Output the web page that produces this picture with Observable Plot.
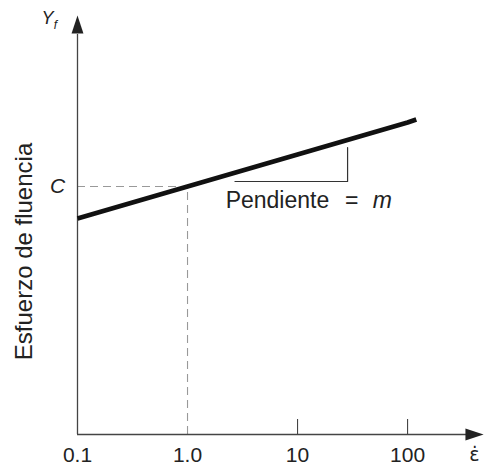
<!DOCTYPE html>
<html>
<head>
<meta charset="utf-8">
<script src="https://cdn.jsdelivr.net/npm/d3@7"></script>
<script src="https://cdn.jsdelivr.net/npm/@observablehq/plot@0.6"></script>
<style>
  html, body { margin: 0; padding: 0; background: #fff; }
</style>
</head>
<body>
<div id="chart"></div>
<script>
// Data
const strainRate = [0.1, 1, 10, 100, 120];
const yieldStress = [216, 248, 280, 312, 315];
const tickValues = [0.1, 1, 10, 100];
const tickLabels = ["0.1", "1.0", "10", "100"];
const refStrainRate = 1;
const C = 248;
const slopeTriX = [2.7, 28.5, 28.5];
const slopeTriY = [253, 253, 287];

const lineData = strainRate.map((x, i) => ({x, y: yieldStress[i]}));
const triData = slopeTriX.map((x, i) => ({x, y: slopeTriY[i]}));
const ticks = tickValues.map((v, i) => ({v, label: tickLabels[i]}));

const arrowHead = {
  draw(ctx, size) {
    const r = Math.sqrt(size / Math.PI);
    ctx.moveTo(0, -r * 1.3);
    ctx.lineTo(r * 0.85, r * 1.3);
    ctx.lineTo(-r * 0.85, r * 1.3);
    ctx.closePath();
  }
};

const ink = "#222";
const axisColor = "#444";
const font = "Liberation Sans, Arial, Helvetica, sans-serif";

const chart = Plot.plot({
  width: 487,
  height: 468,
  marginLeft: 77,
  marginRight: 4,
  marginTop: 14,
  marginBottom: 34,
  x: {type: "log", domain: [0.1, 490], axis: null},
  y: {domain: [0, 420], axis: null},
  style: {fontFamily: font, background: "white", overflow: "visible"},
  marks: [
    // dashed reference lines
    Plot.ruleY([C], {x1: 0.1, x2: refStrainRate, stroke: "#999", strokeWidth: 1.1, strokeDasharray: "8,5"}),
    Plot.ruleX([refStrainRate], {y1: 0, y2: C, stroke: "#999", strokeWidth: 1.1, strokeDasharray: "8,5"}),
    // axes
    Plot.ruleY([0], {x1: 0.1, x2: 400, stroke: axisColor, strokeWidth: 1.3}),
    Plot.ruleX([0.1], {y1: 0, y2: 400, stroke: axisColor, strokeWidth: 1.3}),
    Plot.dot([{x: 406, y: 0}], {x: "x", y: "y", symbol: arrowHead, r: 7, fill: ink, stroke: "none", rotate: 90}),
    Plot.dot([{x: 0.1, y: 410}], {x: "x", y: "y", symbol: arrowHead, r: 7, fill: ink, stroke: "none"}),
    // x ticks
    Plot.ruleX(tickValues.filter(v => v >= 10), {y1: 0, y2: 15, stroke: axisColor, strokeWidth: 1.1}),
    Plot.text(ticks, {x: "v", y: () => 0, text: "label", dy: 21, fontSize: 21, fill: ink, textAnchor: "middle", lineAnchor: "middle"}),
    // main line
    Plot.line(lineData, {x: "x", y: "y", stroke: "#111", strokeWidth: 4.8, strokeLinecap: "butt"}),
    // slope triangle
    Plot.line(triData, {x: "x", y: "y", stroke: "#333", strokeWidth: 1.2}),
    Plot.text(["Pendiente"], {x: 2.22, y: 234, text: d => d, fontSize: 23, fill: ink, textAnchor: "start", lineAnchor: "middle"}),
    Plot.text(["="], {x: 2.22, y: 234, dx: 126, text: d => d, fontSize: 23, fill: ink, textAnchor: "middle", lineAnchor: "middle"}),
    Plot.text(["m"], {x: 2.22, y: 234, dx: 147, text: d => d, fontSize: 23, fontStyle: "italic", fill: ink, textAnchor: "start", lineAnchor: "middle"}),
    // axis labels
    Plot.text(["C"], {x: 0.1, y: C, dx: -20, text: d => d, fontSize: 21, fontStyle: "italic", fill: ink, textAnchor: "middle", lineAnchor: "middle"}),
    Plot.text(["Y"], {x: 0.1, y: 416, dx: -30, text: d => d, fontSize: 18, fontStyle: "italic", fill: ink, textAnchor: "middle", lineAnchor: "middle"}),
    Plot.text(["f"], {x: 0.1, y: 409, dx: -22, text: d => d, fontSize: 12, fontStyle: "italic", fill: ink, textAnchor: "middle", lineAnchor: "middle"}),
    Plot.text(["Esfuerzo de fluencia"], {x: 0.1, y: 183, dx: -53, text: d => d, fontSize: 24, rotate: -90, fill: ink, textAnchor: "middle", lineAnchor: "middle"}),
    Plot.text(["ε̇"], {x: 490, y: 0, dx: -9, dy: 20, text: d => d, fontSize: 19, fill: ink, textAnchor: "middle", lineAnchor: "middle", fontFamily: "DejaVu Sans, sans-serif"})
  ]
});

document.getElementById("chart").appendChild(chart);
</script>
</body>
</html>
